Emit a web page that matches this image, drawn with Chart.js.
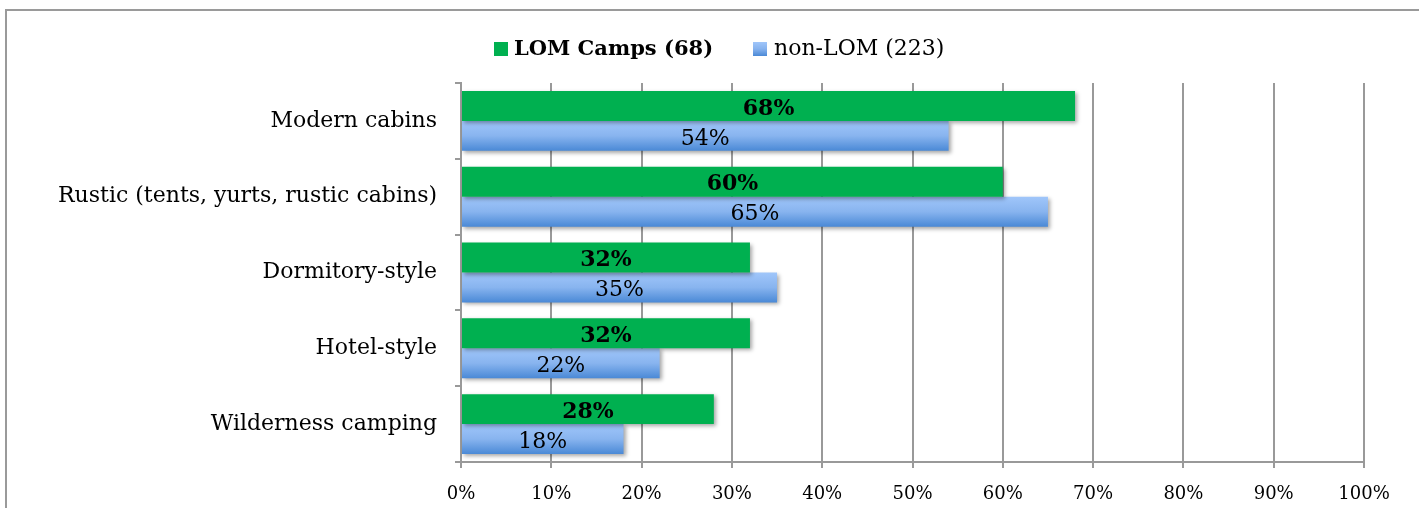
<!DOCTYPE html>
<html>
<head>
<meta charset="utf-8">
<script src="https://cdn.jsdelivr.net/npm/chart.js@4"></script>
<style>
  html, body { margin: 0; padding: 0; background: #fff; }
  #wrap { position: relative; width: 1419px; height: 508px; overflow: hidden; }
  #frame { position: absolute; left: 5px; top: 9px; width: 1430px; height: 520px; border-left: 2px solid #9a9a9a; border-top: 2px solid #9a9a9a; box-sizing: border-box; }
  canvas { position: absolute; left: 0; top: 0; }
  .leg { position: absolute; font-family: "DejaVu Serif", serif; font-size: 22px; color: #000; line-height: 26px; top: 35px; white-space: nowrap; }
  .sw { position: absolute; width: 14px; height: 14px; top: 42px; }
</style>
</head>
<body>
<div id="wrap">
  <div id="frame"></div>
  <canvas id="c" width="1419" height="508"></canvas>
  <div class="sw" style="left:494px; background:#00B050;"></div>
  <div class="leg" style="left:514px; font-weight:bold; font-size:21px;">LOM Camps (68)</div>
  <div class="sw" style="left:753px; background:linear-gradient(#A0C6FA,#86B2EE,#4A89D6);"></div>
  <div class="leg" style="left:774px;">non-LOM (223)</div>
</div>
<script>
const categories = ["Modern cabins", "Rustic (tents, yurts, rustic cabins)", "Dormitory-style", "Hotel-style", "Wilderness camping"];
const lomValues = [68, 60, 32, 32, 28];
const nonLomValues = [54, 65, 35, 22, 18];
const seriesNames = ["LOM Camps (68)", "non-LOM (223)"];
const xTicks = [0, 10, 20, 30, 40, 50, 60, 70, 80, 90, 100];

const FONT = "DejaVu Serif";
const CAT_PCT = 0.79;

function blueGradient(c) {
  const chart = c.chart;
  const ys = chart.scales && chart.scales.y;
  if (!ys || c.dataIndex === undefined || !isFinite(ys.height)) return '#86B2EE';
  const center = ys.getPixelForValue(c.dataIndex);
  const catH = ys.height / categories.length;
  const th = catH * CAT_PCT / 2;
  const g = chart.ctx.createLinearGradient(0, center, 0, center + th);
  g.addColorStop(0, '#A0C6FA');
  g.addColorStop(0.5, '#88B4EF');
  g.addColorStop(1, '#4A89D6');
  return g;
}

const shadowPlugin = {
  id: 'shadow',
  beforeDatasetDraw(chart) {
    const ctx = chart.ctx;
    ctx.save();
    ctx.shadowColor = 'rgba(0,0,0,0.35)';
    ctx.shadowBlur = 4;
    ctx.shadowOffsetX = 2;
    ctx.shadowOffsetY = 2;
  },
  afterDatasetDraw(chart) {
    chart.ctx.restore();
  }
};

const labelPlugin = {
  id: 'barLabels',
  afterDatasetsDraw(chart) {
    const ctx = chart.ctx;
    ctx.save();
    ctx.textAlign = 'center';
    ctx.textBaseline = 'middle';
    ctx.fillStyle = '#000';
    chart.data.datasets.forEach((ds, di) => {
      const meta = chart.getDatasetMeta(di);
      ctx.font = (di === 0 ? 'bold ' : '') + '22px "' + FONT + '"';
      meta.data.forEach((el, i) => {
        const cx = (el.x + el.base) / 2;
        ctx.fillText(ds.data[i] + '%', cx, el.y + 3);
      });
    });
    ctx.restore();
  }
};

new Chart(document.getElementById('c'), {
  type: 'bar',
  data: {
    labels: categories,
    datasets: [
      { label: seriesNames[0], data: lomValues, backgroundColor: '#00B050', borderWidth: 0 },
      { label: seriesNames[1], data: nonLomValues, backgroundColor: blueGradient, borderWidth: 0 }
    ]
  },
  plugins: [shadowPlugin, labelPlugin],
  options: {
    indexAxis: 'y',
    responsive: false,
    animation: false,
    devicePixelRatio: 1,
    layout: { padding: { left: 0, right: 55, top: 83, bottom: 0 } },
    datasets: { bar: { categoryPercentage: CAT_PCT, barPercentage: 1 } },
    plugins: { legend: { display: false }, tooltip: { enabled: false } },
    scales: {
      x: {
        min: 0, max: 100,
        afterBuildTicks(s) { s.ticks = xTicks.map(v => ({ value: v })); },
        afterFit(s) { s.height = 46; },
        grid: { color: '#999', lineWidth: 2, tickLength: 6, drawOnChartArea: true },
        border: { color: '#999', width: 2 },
        ticks: {
          color: '#000', padding: 16,
          font: { family: FONT, size: 18 },
          callback: v => v + '%'
        }
      },
      y: {
        afterFit(s) { s.width = 461; },
        grid: { display: true, drawOnChartArea: false, color: '#999', lineWidth: 2, tickLength: 6, offset: true },
        border: { color: '#999', width: 2 },
        ticks: { color: '#000', padding: 18, font: { family: FONT, size: 22 } }
      }
    }
  }
});
</script>
</body>
</html>
